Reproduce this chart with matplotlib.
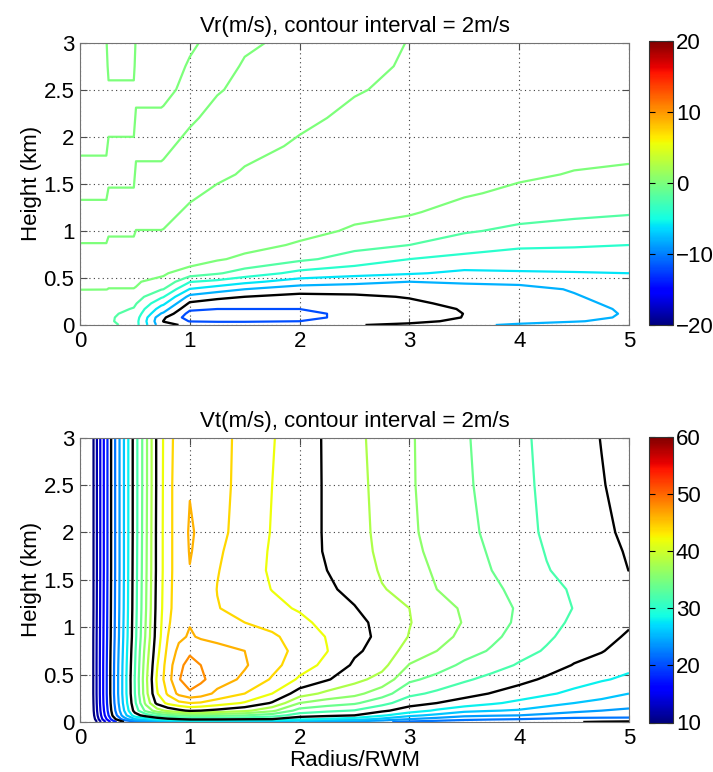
import numpy as np
import matplotlib
matplotlib.use("Agg")
import matplotlib.pyplot as plt
from matplotlib import colors, cm

plt.rcParams['font.family'] = ['Liberation Sans', 'DejaVu Sans']
plt.rcParams['contour.negative_linestyle'] = 'solid'

# ---- radial wind Vr (m/s) ----
VR_RADIUS = [0, 0.24, 0.26, 0.49, 0.51, 0.74, 0.76, 1.0, 1.25, 1.5, 2.0, 2.5, 3.0, 3.5, 4.0, 4.5, 5.0]
VR_HEIGHT = [0, 0.04, 0.08, 0.12, 0.17, 0.23, 0.3, 0.38, 0.46, 0.55, 0.7,
             0.85, 1.0, 1.2, 1.4, 1.6, 1.9, 2.2, 2.5, 2.75, 3.0]
# one list per radius, bottom to top
VR_COLUMNS = [
    [-0.9, -1.1, -1.15, -1.1, -0.95, -0.7, -0.3, 0.02, 0.18, 0.36, 0.34, 0.04, -0.26, -0.26, 0.14, 0.4, -0.2, -0.6, -0.6, -0.4, -0.1],
    [-1.5, -1.7, -1.7, -1.6, -1.4, -1.0, -0.5, 0.02, 0.18, 0.36, 0.34, 0.04, -0.26, -0.26, 0.14, 0.4, -0.2, -0.6, -0.6, -0.4, -0.1],
    [-1.6, -1.8, -1.8, -1.7, -1.5, -1.1, -0.6, -0.02, 0.14, 0.32, 0.48, 0.18, -0.12, -0.52, -0.12, 0.28, 0.2, -0.4, -0.2, 0.3, 0.6],
    [-2.6, -2.7, -2.6, -2.45, -2.1, -1.7, -1.1, -0.02, 0.14, 0.32, 0.48, 0.18, -0.12, -0.52, -0.12, 0.28, 0.2, -0.4, -0.2, 0.3, 0.6],
    [-3.4, -3.4, -3.2, -2.9, -2.5, -1.9, -1.2, -0.04, 0.08, 0.26, 0.56, 0.3, 0.02, -0.38, -0.68, -0.28, 0.32, 0.22, -0.38, -0.5, -0.2],
    [-9.2, -9.7, -9.4, -8.1, -6.9, -5.4, -3.7, -1.9, -0.3, 0.2, 0.56, 0.3, 0.02, -0.38, -0.68, -0.28, 0.32, 0.22, -0.38, -0.5, -0.2],
    [-9.6, -10.05, -9.7, -8.3, -7.1, -5.6, -3.9, -2.0, -0.4, 0.2, 0.56, 0.34, 0.04, -0.36, -0.7, -0.32, 0.28, 0.24, -0.32, -0.5, -0.2],
    [-10.3, -12.1, -13.0, -12.7, -11.6, -10.3, -8.6, -6.1, -3.9, -0.9, 1.0, 0.9, 0.6, 0.2, -0.2, -0.5, -0.4, 0.2, 0.35, 0.1, -0.15],
    [-10.3, -12.3, -13.2, -13.0, -12.0, -10.9, -9.5, -7.1, -4.5, -1.8, 0.2, 0.9, 0.9, 0.6, 0.2, -0.2, -0.5, -0.4, 0.1, 0.4, 0.3],
    [-10.3, -12.3, -13.2, -13.1, -12.0, -11.2, -10.0, -8.0, -5.5, -2.8, -0.4, 0.6, 0.8, 0.6, 0.4, 0.1, -0.25, -0.4, -0.3, -0.1, 0.15],
    [-10.2, -12.0, -12.6, -12.6, -12.0, -11.5, -10.6, -9.1, -6.9, -4.6, -1.6, -0.2, 0.5, 0.6, 0.5, 0.35, 0.1, -0.15, -0.3, -0.3, -0.25],
    [-10.1, -11.0, -11.4, -11.4, -11.1, -10.9, -10.3, -9.3, -7.4, -5.3, -2.8, -1.4, -0.2, 0.4, 0.45, 0.4, 0.3, 0.15, -0.05, -0.2, -0.25],
    [-9.6, -10.5, -10.8, -10.8, -10.6, -10.3, -9.9, -9.1, -8.0, -5.8, -4.0, -2.0, -0.9, 0.2, 0.35, 0.4, 0.35, 0.25, 0.15, 0.08, 0.02],
    [-8.4, -9.6, -9.95, -9.98, -9.9, -9.6, -9.2, -8.6, -7.8, -6.4, -4.6, -3.0, -1.8, -0.7, 0.2, 0.4, 0.45, 0.4, 0.3, 0.25, 0.2],
    [-7.7, -8.6, -8.95, -9.0, -8.95, -8.8, -8.6, -8.4, -7.7, -6.2, -4.9, -3.7, -2.4, -1.3, -0.4, 0.3, 0.5, 0.5, 0.45, 0.4, 0.35],
    [-7.3, -8.1, -8.35, -8.4, -8.35, -8.25, -8.1, -7.9, -7.4, -6.1, -5.0, -3.8, -2.7, -1.6, -1.0, -0.1, 0.6, 0.6, 0.55, 0.5, 0.45],
    [-7.0, -7.6, -7.85, -7.9, -7.85, -7.7, -7.5, -7.2, -6.8, -6.0, -5.0, -4.0, -3.1, -1.8, -1.1, -0.3, 0.5, 0.6, 0.6, 0.55, 0.5],
]

# ---- tangential wind Vt (m/s) ----
VT_RADIUS = [0, 0.1, 0.2, 0.3, 0.4, 0.5, 0.6, 0.7, 0.8, 0.9, 1.0, 1.1, 1.25, 1.5,
             1.75, 2.0, 2.25, 2.5, 2.75, 3.0, 3.25, 3.5, 3.75, 4.0, 4.25, 4.5, 4.75, 5.0]
VT_HEIGHT = [0, 0.03, 0.07, 0.12, 0.2, 0.3, 0.45, 0.6, 0.75, 0.9, 1.05, 1.2,
             1.4, 1.6, 1.8, 2.0, 2.5, 3.0]
VT_COLUMNS = [
    [0.0] * 18,
    [7.0, 7.8, 8.2, 8.4, 8.5, 8.6, 8.6, 8.6, 8.6, 8.6, 8.55, 8.5, 8.5, 8.5, 8.5, 8.5, 8.5, 8.5],
    [12.5, 13.8, 14.5, 14.9, 15.2, 15.3, 15.3, 15.3, 15.25, 15.2, 15.15, 15.1, 15.05, 15.0, 15.0, 15.0, 15.0, 15.0],
    [17.0, 19.0, 20.3, 20.9, 21.3, 21.5, 21.5, 21.45, 21.35, 21.2, 21.15, 21.1, 21.05, 21.0, 21.0, 21.0, 21.0, 21.0],
    [20.0, 23.0, 25.0, 25.9, 26.5, 26.8, 26.8, 26.7, 26.5, 26.3, 26.2, 26.1, 26.05, 26.0, 26.0, 26.0, 26.0, 26.0],
    [21.5, 26.0, 29.0, 30.8, 31.6, 32.0, 32.1, 31.9, 31.7, 31.4, 31.3, 31.2, 31.15, 31.1, 31.05, 31.0, 31.0, 31.0],
    [22.0, 27.0, 31.0, 34.5, 36.5, 37.3, 37.5, 37.2, 36.8, 36.3, 36.1, 35.9, 35.8, 35.7, 35.65, 35.6, 35.5, 35.5],
    [23.0, 28.5, 32.5, 37.0, 40.5, 41.8, 42.2, 41.8, 41.3, 40.9, 40.75, 40.6, 40.5, 40.4, 40.4, 40.4, 40.3, 40.3],
    [24.0, 29.5, 33.5, 38.5, 42.5, 44.3, 45.2, 45.0, 44.5, 44.0, 43.7, 43.5, 43.45, 43.4, 43.4, 43.4, 43.4, 43.3],
    [25.0, 30.0, 34.0, 39.5, 43.5, 46.5, 47.8, 47.4, 46.5, 45.6, 45.2, 45.0, 44.95, 44.9, 44.9, 44.9, 44.9, 44.8],
    [26.0, 30.5, 34.5, 40.3, 44.0, 47.5, 49.6, 48.8, 47.6, 46.2, 45.9, 45.8, 45.85, 45.95, 46.1, 46.2, 45.9, 45.6],
    [26.0, 30.5, 34.6, 40.0, 43.8, 47.0, 48.4, 48.0, 47.0, 45.8, 45.4, 45.3, 45.35, 45.5, 45.6, 45.7, 45.6, 45.5],
    [25.5, 30.5, 34.5, 39.5, 43.0, 45.5, 47.0, 47.1, 46.6, 45.5, 44.7, 44.1, 43.95, 44.1, 44.3, 44.6, 44.7, 44.7],
    [25.0, 30.2, 34.0, 38.5, 41.8, 44.0, 45.6, 46.2, 46.0, 45.0, 44.0, 43.2, 42.9, 42.85, 42.95, 43.1, 43.3, 43.4],
    [24.5, 30.0, 33.0, 36.5, 39.8, 42.0, 43.8, 44.6, 44.8, 44.3, 43.4, 42.5, 41.95, 41.75, 41.8, 41.9, 42.0, 42.1],
    [24.0, 28.5, 31.0, 33.2, 36.0, 39.0, 41.7, 42.9, 43.4, 43.2, 42.5, 41.8, 41.2, 40.8, 40.7, 40.8, 41.0, 41.1],
    [23.5, 27.7, 30.5, 32.4, 35.0, 37.5, 40.2, 41.5, 42.05, 41.9, 41.4, 40.8, 40.3, 40.0, 39.85, 39.8, 39.75, 39.7],
    [23.0, 27.0, 30.0, 31.9, 34.3, 36.6, 38.6, 39.7, 40.3, 40.6, 40.5, 40.1, 39.5, 39.0, 38.8, 38.7, 38.6, 38.5],
    [22.3, 25.5, 28.3, 30.4, 32.7, 34.9, 37.3, 38.6, 39.3, 39.6, 39.5, 39.0, 38.1, 37.8, 37.6, 37.5, 37.4, 37.3],
    [21.5, 24.0, 26.5, 29.0, 30.8, 32.5, 34.4, 35.9, 37.1, 37.9, 38.1, 38.0, 37.5, 36.9, 36.5, 36.3, 36.2, 36.2],
    [21.1, 23.2, 25.5, 27.7, 30.0, 31.6, 33.4, 34.9, 36.0, 36.6, 36.8, 36.6, 36.0, 35.7, 35.5, 35.4, 35.3, 35.2],
    [20.8, 22.5, 24.5, 26.5, 29.2, 30.7, 32.3, 33.6, 34.8, 35.6, 35.9, 35.8, 35.3, 34.9, 34.7, 34.5, 34.3, 34.2],
    [20.6, 22.2, 24.2, 26.1, 28.3, 29.9, 31.4, 32.8, 33.8, 34.4, 34.7, 34.7, 34.3, 34.0, 33.8, 33.6, 33.4, 33.3],
    [20.5, 22.0, 24.0, 25.8, 27.5, 29.1, 30.6, 31.8, 32.7, 33.3, 33.7, 33.8, 33.6, 33.2, 32.9, 32.7, 32.5, 32.4],
    [20.3, 21.7, 23.5, 25.1, 26.7, 28.3, 29.7, 30.9, 31.8, 32.3, 32.6, 32.7, 32.5, 32.1, 31.9, 31.7, 31.6, 31.5],
    [20.1, 21.5, 23.0, 24.5, 26.0, 27.5, 28.9, 29.9, 30.7, 31.3, 31.7, 31.95, 31.8, 31.4, 31.15, 31.0, 30.8, 30.7],
    [19.8, 21.5, 22.8, 24.0, 25.5, 26.7, 28.2, 29.3, 30.1, 30.5, 30.9, 31.2, 31.1, 30.8, 30.5, 30.3, 30.1, 29.95],
    [19.6, 21.5, 22.7, 23.6, 25.0, 26.0, 27.6, 28.5, 29.2, 29.8, 30.2, 30.5, 30.45, 29.98, 29.85, 29.7, 29.4, 29.2],
]

VR_RANGE = (-20, 20)
VT_RANGE = (10, 60)
VR_BLACK = [-10, 10]
VT_BLACK = [20, 30, 40, 50]

FS = 16
cmap = plt.get_cmap('jet')


def panel(ax, cax, radius, height, columns, vrange, black, title):
    r, z = np.meshgrid(radius, height)
    field = np.array(columns).T
    norm = colors.Normalize(vmin=vrange[0], vmax=vrange[1])
    levels = np.arange(vrange[0], vrange[1] + 1, 2)
    lev_c = [l for l in levels if l not in black]
    lev_k = [l for l in levels if l in black]
    ax.contour(r, z, field, levels=lev_c, colors=[cmap(norm(l)) for l in lev_c],
               linewidths=1.6)
    ax.contour(r, z, field, levels=lev_k, colors='k', linewidths=1.7)

    ax.set_xlim(0, 5)
    ax.set_ylim(0, 3)
    ax.set_xticks([0, 1, 2, 3, 4, 5])
    ax.set_yticks([0, 0.5, 1, 1.5, 2, 2.5, 3])
    ax.set_yticklabels(['0', '0.5', '1', '1.5', '2', '2.5', '3'])
    ax.grid(True, linestyle=(0, (1, 3)), color='0.25', linewidth=0.8)
    ax.set_axisbelow(True)
    ax.tick_params(direction='in', top=True, right=True, length=5,
                   labelsize=FS, pad=4, color='0.3')
    for s in ax.spines.values():
        s.set_color('0.45')
    ax.set_ylabel('Height (km)', fontsize=FS, labelpad=1)
    ax.set_title(title, fontsize=FS, pad=8)

    sm = cm.ScalarMappable(norm=norm, cmap=cmap)
    cb = fig.colorbar(sm, cax=cax, ticks=np.arange(vrange[0], vrange[1] + 1, 10))
    cb.ax.tick_params(direction='in', length=4, labelsize=FS, pad=2,
                      left=True, right=True)
    cb.outline.set_edgecolor('0.2')


fig = plt.figure(figsize=(7.13, 7.72), dpi=100)
ax1 = fig.add_axes([80 / 713, 1 - 325 / 772, 549 / 713, 282.3 / 772])
cax1 = fig.add_axes([649 / 713, 1 - 325 / 772, 24 / 713, 284 / 772])
ax2 = fig.add_axes([80 / 713, 1 - 722 / 772, 549 / 713, 284.3 / 772])
cax2 = fig.add_axes([649 / 713, 1 - 722.5 / 772, 24 / 713, 285.5 / 772])

panel(ax1, cax1, VR_RADIUS, VR_HEIGHT, VR_COLUMNS, VR_RANGE, VR_BLACK,
      'Vr(m/s), contour interval = 2m/s')
panel(ax2, cax2, VT_RADIUS, VT_HEIGHT, VT_COLUMNS, VT_RANGE, VT_BLACK,
      'Vt(m/s), contour interval = 2m/s')
ax2.set_xlabel('Radius/RWM', fontsize=FS, labelpad=1)

fig.savefig('out.png', dpi=100)
